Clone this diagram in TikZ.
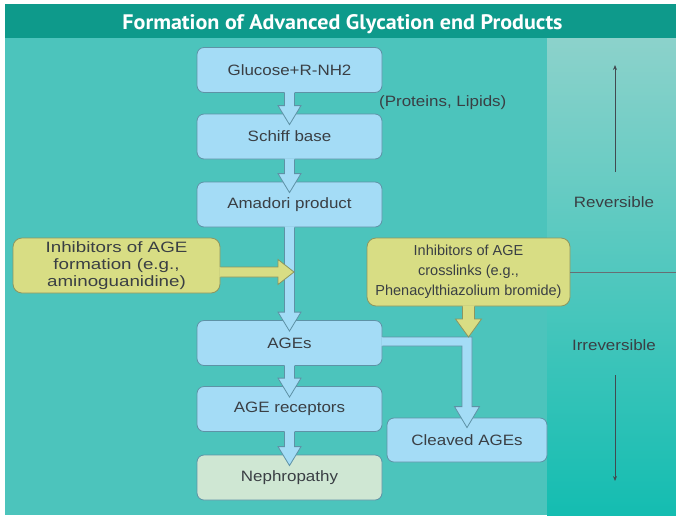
\documentclass[tikz,border=0pt]{standalone}
\usepackage{graphicx}
\usepackage{fontspec}
\setmainfont{Liberation Sans}
\newfontfamily\boxfont[FakeStretch=1.13]{Liberation Sans}
\newfontfamily\inhfont[FakeStretch=1.25]{Liberation Sans}
\newfontfamily\titlefont{PT Sans}
\usetikzlibrary{arrows.meta,calc}
\definecolor{titlebar}{HTML}{0E9A8B}
\definecolor{mainteal}{HTML}{4CC4BC}
\definecolor{paneltop}{HTML}{8CD2CB}
\definecolor{panelmid}{HTML}{B6E4E2}
\definecolor{panelbot}{HTML}{14BDB1}
\definecolor{boxblue}{HTML}{A4DCF6}
\definecolor{boxline}{HTML}{5E92A6}
\definecolor{inhyellow}{HTML}{D8DD84}
\definecolor{inhline}{HTML}{8C9660}
\definecolor{nephgreen}{HTML}{CFE7D3}
\definecolor{txt}{HTML}{3A3F44}
\definecolor{axis}{HTML}{414A50}
\tikzset{
  blk/.style={draw=boxline, fill=boxblue, rounded corners=7pt, line width=0.8pt,
    minimum width=185pt, minimum height=45pt, inner sep=0pt, text=txt,
    font=\boxfont\fontsize{15}{18}\selectfont},
  inhbox/.style={draw=inhline, fill=inhyellow, rounded corners=9pt, line width=0.8pt,
    inner sep=0pt, text=txt, align=center},
  plainlbl/.style={text=txt, inner sep=0pt, font=\boxfont\fontsize{15}{18}\selectfont},
  bluefill/.style={fill=boxblue},
  blueline/.style={draw=boxline, line width=0.8pt, line join=miter},
  yelfill/.style={fill=inhyellow},
  yelline/.style={draw=inhline, line width=0.8pt, line join=miter},
  axisline/.style={draw=axis, line width=0.9pt, -{Stealth[length=5pt,width=4pt]}},
}
\newcommand{\blkarrow}[2]{%
  \fill[bluefill] ($(#1.south)+(-5,-1)$) -- ($(#2.north)+(-5,-8)$) -- ($(#2.north)+(-11.5,-8)$)
    -- ($(#2.north)+(0,11)$) -- ($(#2.north)+(11.5,-8)$) -- ($(#2.north)+(5,-8)$)
    -- ($(#1.south)+(5,-1)$) -- cycle;
  \draw[blueline] ($(#1.south)+(-5,0)$) -- ($(#2.north)+(-5,-8)$) -- ($(#2.north)+(-11.5,-8)$)
    -- ($(#2.north)+(0,11)$) -- ($(#2.north)+(11.5,-8)$) -- ($(#2.north)+(5,-8)$)
    -- ($(#1.south)+(5,0)$);
}
\begin{document}
\begin{tikzpicture}[x=1pt,y=-1pt]
\useasboundingbox (0,0) rectangle (676,515);
\fill[white] (0,0) rectangle (676,515);
\fill[mainteal] (5,38) rectangle (547,515);
\shade[top color=paneltop, middle color=panelmid, bottom color=panelbot] (547,38) rectangle (676,515);
\fill[titlebar] (5,4) rectangle (676,38);
\node[text=white, anchor=base, inner sep=0pt] (title) at (342.5,29.5)
  {\resizebox{440pt}{15pt}{\titlefont\bfseries Formation of Advanced Glycation end Products}};

% right panel
\node[plainlbl] (rev) at (614,202) {Reversible};
\node[plainlbl] (irr) at (614,345) {Irreversible};
\coordinate (upstart) at (615,172);
\coordinate (upend) at (615,65);
\coordinate (dnstart) at (615,375);
\coordinate (dnend) at (615,481);
\draw[axisline] (upstart) -- (upend);
\draw[axisline] (dnstart) -- (dnend);

% main boxes
\node[blk] (glu) at (289.5,70) {Glucose+R-NH2};
\node[blk] (sch) at (289.5,136.5) {Schiff base};
\node[blk] (ama) at (289.5,204.5) {Amadori product};
\node[blk] (age) at (289.5,343) {AGEs};
\node[blk] (rec) at (289.5,409) {AGE receptors};
\node[blk, fill=nephgreen] (nep) at (289.5,477.5) {Nephropathy};
\node[blk, minimum width=160pt, minimum height=44pt] (clv) at (467,440) {Cleaved AGEs};
\node[plainlbl, anchor=west] (prot) at (379,103) {(Proteins, Lipids)};

% inhibitor boxes
\node[inhbox, minimum width=207pt, minimum height=55pt,
  font=\inhfont\fontsize{15}{17}\selectfont] (inhA) at (116.5,265.5)
  {Inhibitors of AGE\\formation (e.g.,\\aminoguanidine)};
\node[inhbox, minimum width=203pt, minimum height=68pt,
  font=\fontsize{14.5}{20}\selectfont] (inhB) at (468.5,272)
  {Inhibitors of AGE\\crosslinks (e.g.,\\Phenacylthiazolium bromide)};
\coordinate (redge) at (676,272);
\draw[draw=axis!80, line width=0.8pt] (inhB.east) -- (redge);

% block arrows
\blkarrow{glu}{sch}
\blkarrow{sch}{ama}
\blkarrow{ama}{age}
\blkarrow{age}{rec}
\blkarrow{rec}{nep}

% pipe from AGEs to Cleaved AGEs
\coordinate (p1) at ($(age.east)+(-1,-6)$);
\coordinate (p2) at ($(age.east)+(-1,3)$);
\coordinate (cr) at ($(clv.north)+(5,0)$);
\coordinate (cl) at ($(clv.north)+(-5,0)$);
\fill[bluefill] (p1) -- (p1 -| cr) -- ($(cr)+(0,-11)$) -- ($(clv.north)+(12.5,-11)$)
  -- ($(clv.north)+(0,10)$) -- ($(clv.north)+(-12.5,-11)$) -- ($(cl)+(0,-11)$)
  -- (p2 -| cl) -- (p2) -- cycle;
\draw[blueline] ($(p1)+(1,0)$) -- (p1 -| cr) -- ($(cr)+(0,-11)$) -- ($(clv.north)+(12.5,-11)$)
  -- ($(clv.north)+(0,10)$) -- ($(clv.north)+(-12.5,-11)$) -- ($(cl)+(0,-11)$)
  -- (p2 -| cl) -- ($(p2)+(1,0)$);

% yellow arrow left
\coordinate (ltip) at (294,272);
\fill[yelfill] ($(inhA.east |- ltip)+(-1,-5)$) -- ($(ltip)+(-16,-5)$) -- ($(ltip)+(-16,-12.5)$)
  -- (ltip) -- ($(ltip)+(-16,12.5)$) -- ($(ltip)+(-16,5)$) -- ($(inhA.east |- ltip)+(-1,5)$) -- cycle;
\draw[yelline] ($(inhA.east |- ltip)+(0,-5)$) -- ($(ltip)+(-16,-5)$) -- ($(ltip)+(-16,-12.5)$)
  -- (ltip) -- ($(ltip)+(-16,12.5)$) -- ($(ltip)+(-16,5)$) -- ($(inhA.east |- ltip)+(0,5)$);

% yellow arrow down
\coordinate (rtip) at (inhB.south |- p1);
\fill[yelfill] ($(inhB.south)+(-6,-1)$) -- ($(rtip)+(-6,-18)$) -- ($(rtip)+(-13,-18)$)
  -- (rtip) -- ($(rtip)+(13,-18)$) -- ($(rtip)+(6,-18)$) -- ($(inhB.south)+(6,-1)$) -- cycle;
\draw[yelline] ($(inhB.south)+(-6,0)$) -- ($(rtip)+(-6,-18)$) -- ($(rtip)+(-13,-18)$)
  -- (rtip) -- ($(rtip)+(13,-18)$) -- ($(rtip)+(6,-18)$) -- ($(inhB.south)+(6,0)$);
\end{tikzpicture}
\end{document}
